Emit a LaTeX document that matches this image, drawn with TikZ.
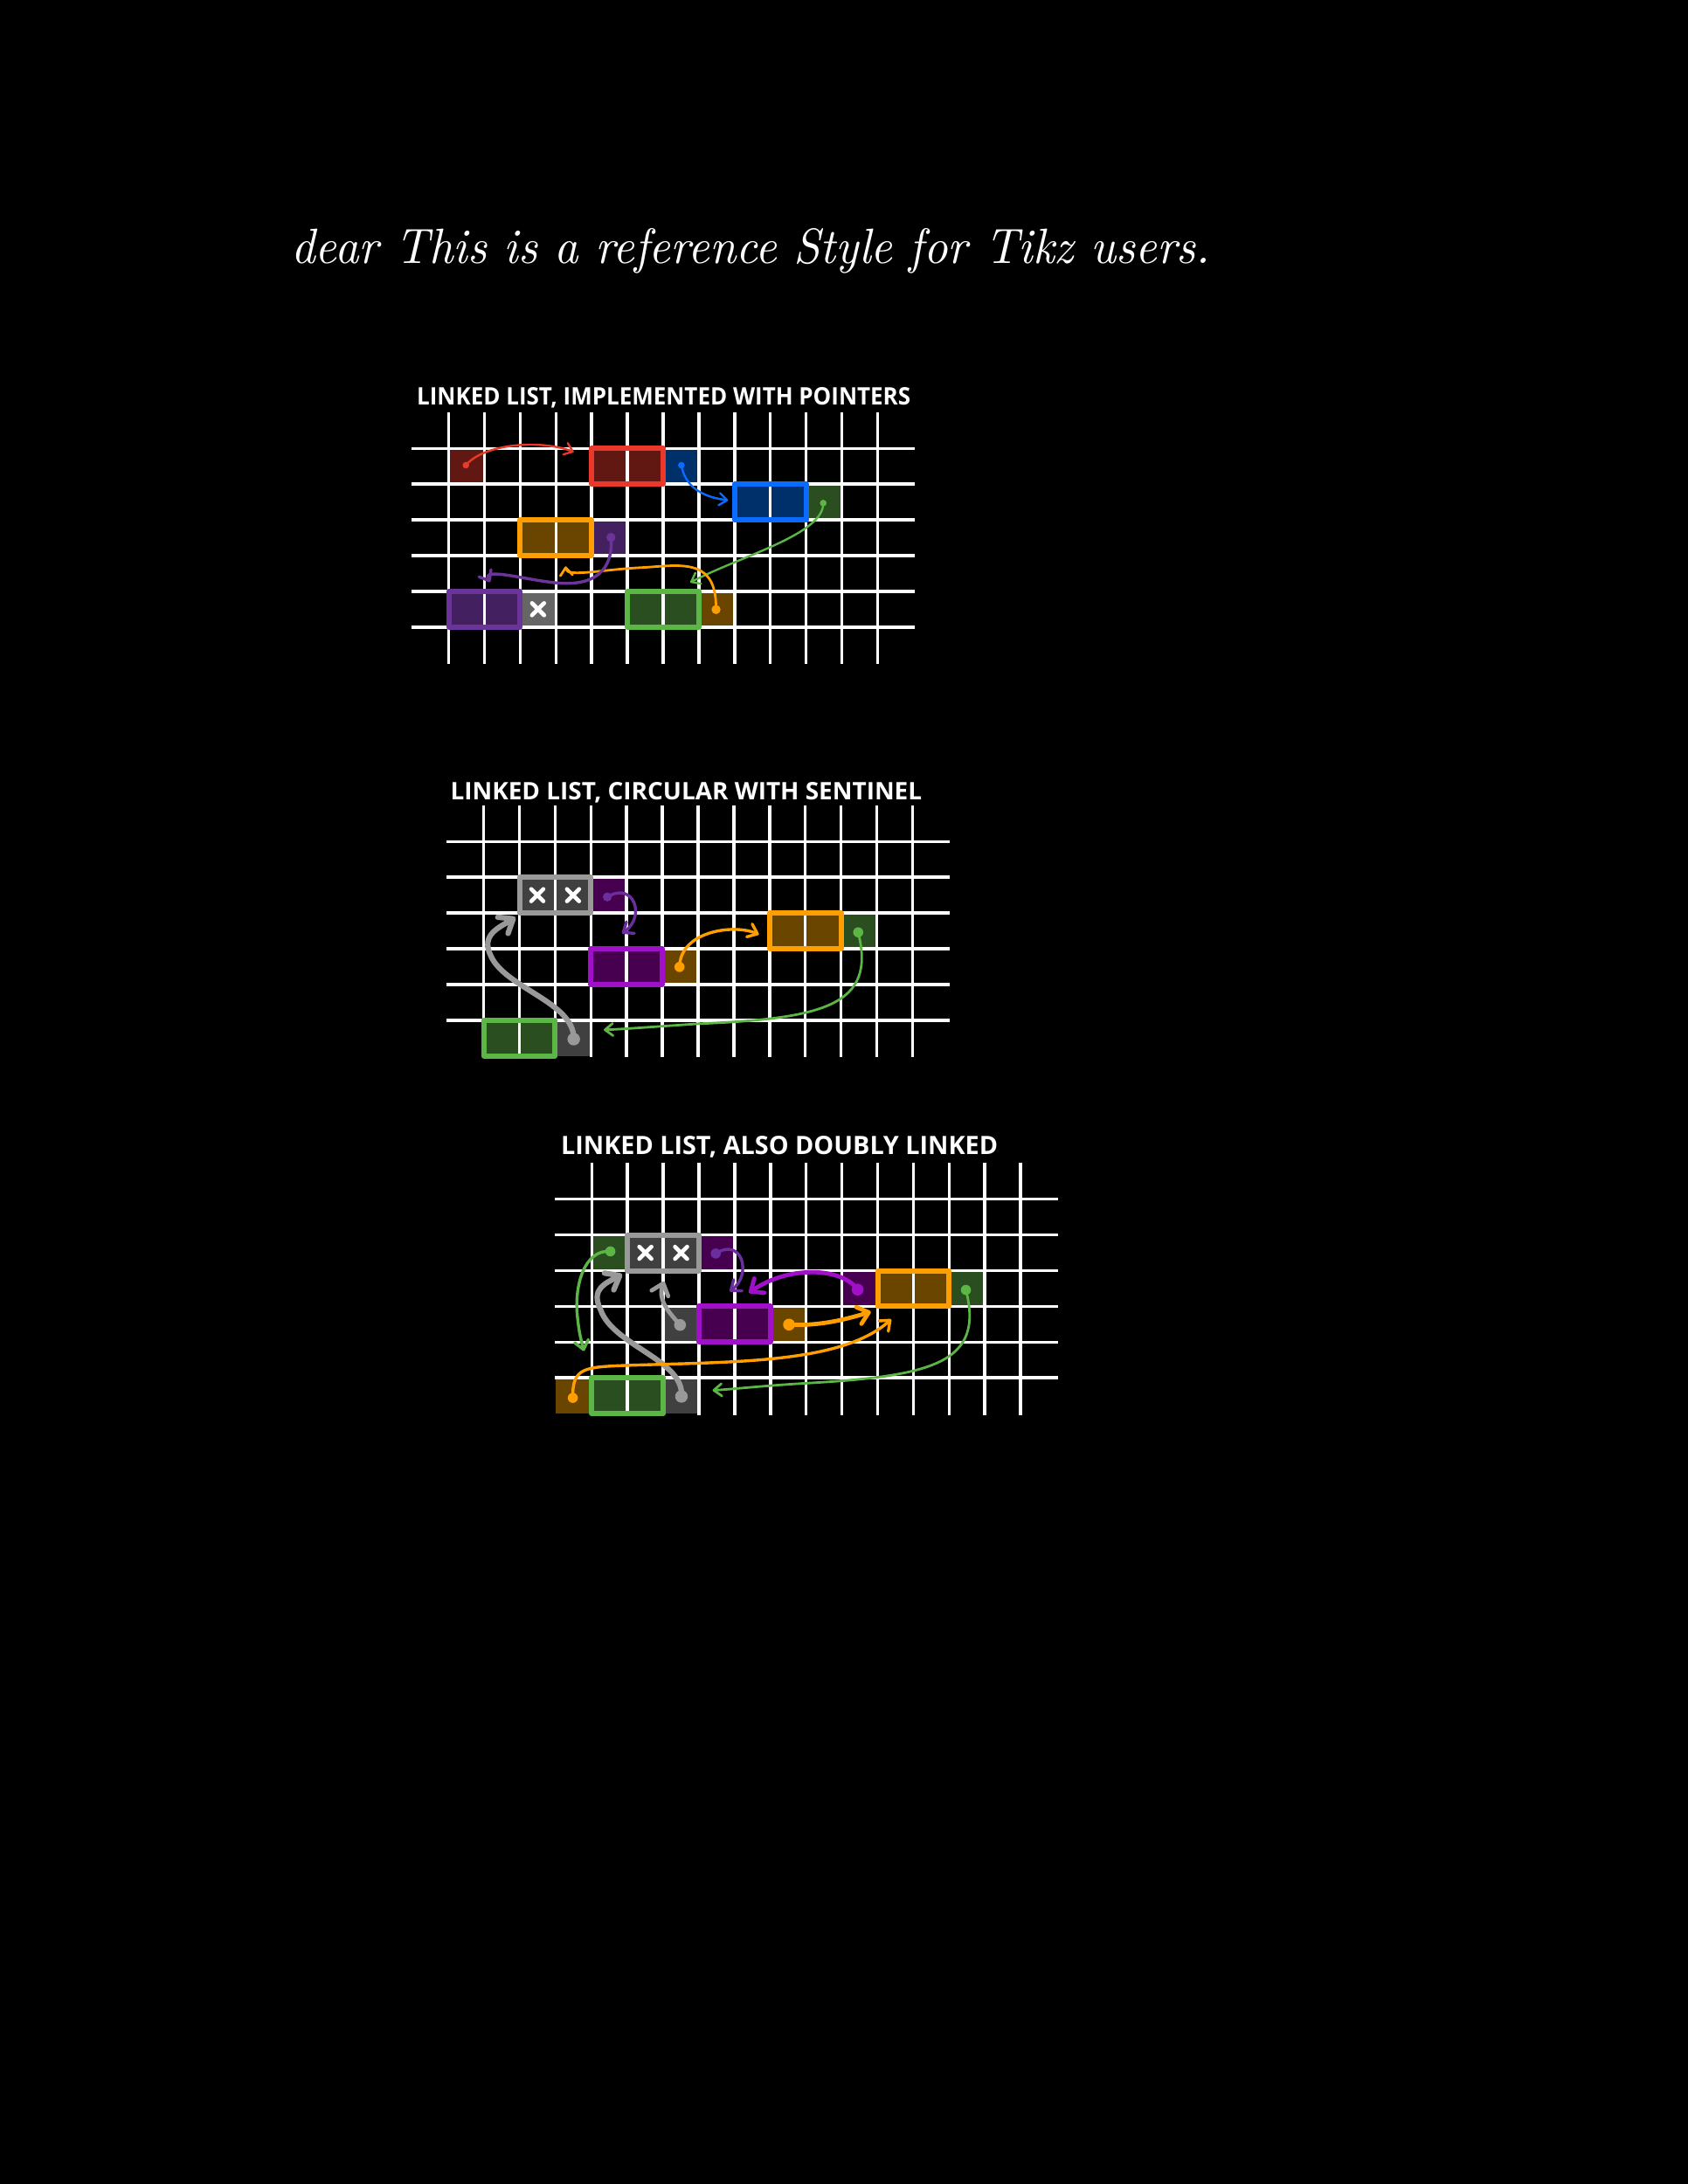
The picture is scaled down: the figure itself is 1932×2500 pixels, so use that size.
\documentclass[tikz,border=0pt]{standalone}
\usepackage{fontspec}
\usetikzlibrary{arrows.meta}
\newfontfamily\handfont{Open Sans}
\definecolor{redL}{HTML}{E8392A}
\definecolor{redD}{HTML}{621812}
\definecolor{blueL}{HTML}{0A6CFF}
\definecolor{blueD}{HTML}{00306A}
\definecolor{greenL}{HTML}{5CB646}
\definecolor{greenD}{HTML}{2A4E20}
\definecolor{orangeL}{HTML}{FF9E00}
\definecolor{orangeD}{HTML}{6A4500}
\definecolor{purpL}{HTML}{6B3499}
\definecolor{purpD}{HTML}{43205F}
\definecolor{magL}{HTML}{A010C8}
\definecolor{magD}{HTML}{47004F}
\definecolor{grayL}{HTML}{999999}
\definecolor{grayD}{HTML}{404040}
\definecolor{grayM}{HTML}{666666}
\definecolor{purpA}{HTML}{6B2E9E}
\tikzset{
  gridline/.style={white, line width=1.75pt},
  boxline/.style={line width=3pt, line join=round},
  xmark/.style={white, line width=2.3pt, line cap=round},
  ptrS/.style={line width=1.2pt, line cap=round, -{Straight Barb[length=4.5pt,width=7pt,round]}},
  ptrM/.style={line width=1.7pt, line cap=round, -{Straight Barb[length=5pt,width=8pt,round]}},
  ptrML/.style={line width=2.4pt, line cap=round, -{Straight Barb[length=6pt,width=10pt,round]}},
  ptrL/.style={line width=3.1pt, line cap=round, -{Straight Barb[length=7pt,width=11pt,round]}},
  titletext/.style={anchor=base west, inner sep=0pt, text=white},
}
\newcommand\LLcell[3]{\fill[#1] (#2,#3) rectangle ++(1,1);}
\newcommand\LLbox[3]{\fill[#1] (#2,#3) rectangle ++(2,1);}
\newcommand\LLframe[3]{\draw[boxline,#1] (#2,#3) rectangle ++(2,1);}
\newcommand\LLx[2]{\draw[xmark,shift={(#1+0.5,#2+0.5)}] (-0.17,-0.17) -- (0.17,0.17) (-0.17,0.17) -- (0.17,-0.17);}
\newcommand\LLgrid{%
  \foreach \i in {0,...,12}{\draw[gridline] (\i,-1.02) -- (\i,6.04);}%
  \foreach \j in {0,...,5}{\draw[gridline] (-1.03,\j) -- (13.05,\j);}%
}
\begin{document}
\begin{tikzpicture}[x=0.5pt,y=-0.5pt]
\fill[black] (0,0) rectangle (1932,2500);
\useasboundingbox (0,0) rectangle (1932,2500);

\node[titletext] (hand) at (333,301.7) {\resizebox{526pt}{20pt}{\itshape dear This is a reference Style for Tikz users.}};

% ---------------- Diagram 1 ----------------
\begin{scope}[xshift=256.8pt,yshift=-256.65pt,x=20.45pt,y=-20.45pt]
\node[titletext] (t1) at (-0.9,-1.23) {\resizebox{282.5pt}{10pt}{\handfont\bfseries LINKED LIST, IMPLEMENTED WITH POINTERS}};
\LLcell{redD}{0}{0}
\LLbox{redD}{4}{0}
\LLcell{blueD}{6}{0}
\LLbox{blueD}{8}{1}
\LLcell{greenD}{10}{1}
\LLbox{orangeD}{2}{2}
\LLcell{purpD}{4}{2}
\LLbox{purpD}{0}{4}
\LLcell{grayM}{2}{4}
\LLbox{greenD}{5}{4}
\LLcell{orangeD}{7}{4}
\LLgrid
\LLframe{redL}{4}{0}
\LLframe{blueL}{8}{1}
\LLframe{orangeL}{2}{2}
\LLframe{purpL}{0}{4}
\LLframe{greenL}{5}{4}
\LLx{2}{4}
\coordinate (a1s) at (0.48,0.47);  \coordinate (a1e) at (3.5,0.1);
\coordinate (a2s) at (6.51,0.47);  \coordinate (a2e) at (7.82,1.45);
\coordinate (a3s) at (10.48,1.53); \coordinate (a3e) at (6.76,3.75);
\coordinate (a4s) at (7.48,4.51);  \coordinate (a4e) at (3.27,3.3);
\coordinate (a5s) at (4.54,2.49);  \coordinate (a5e) at (1.16,3.74);
\draw[ptrS,redL] (a1s) .. controls (1.0,-0.15) and (2.6,-0.25) .. (a1e);
\draw[ptrS,blueL] (a2s) .. controls (6.6,1.0) and (7.0,1.35) .. (a2e);
\draw[ptrS,greenL] (a3s) .. controls (10.5,2.4) and (8.2,3.0) .. (a3e);
\draw[ptrS,line width=1.4pt,orangeL] (a4s) .. controls (7.5,3.1) and (6.6,3.25) .. (5.5,3.33) .. controls (4.3,3.38) and (3.3,3.62) .. (a4e);
\draw[ptrM,purpL] (a5s) .. controls (4.6,3.2) and (4.3,3.85) .. (3.1,3.77) .. controls (2.2,3.7) and (0.9,3.3) .. (a5e);
\fill[redL] (a1s) circle[radius=1.9pt];
\fill[blueL] (a2s) circle[radius=1.9pt];
\fill[greenL] (a3s) circle[radius=1.9pt];
\fill[orangeL] (a4s) circle[radius=2.6pt];
\fill[purpL] (a5s) circle[radius=2.6pt];
\end{scope}

% ---------------- Diagram 2 ----------------
\begin{scope}[xshift=276.8pt,yshift=-481.65pt,x=20.45pt,y=-20.45pt]
\node[titletext] (t2) at (-0.94,-1.18) {\resizebox{269.8pt}{10pt}{\handfont\bfseries LINKED LIST, CIRCULAR WITH SENTINEL}};
\LLbox{grayD}{1}{1}
\LLcell{magD}{3}{1}
\LLbox{magD}{3}{3}
\LLcell{orangeD}{5}{3}
\LLbox{orangeD}{8}{2}
\LLcell{greenD}{10}{2}
\LLbox{greenD}{0}{5}
\LLcell{grayD}{2}{5}
\LLgrid
\LLframe{grayL}{1}{1}
\LLframe{magL}{3}{3}
\LLframe{orangeL}{8}{2}
\LLframe{greenL}{0}{5}
\LLx{1}{1}
\LLx{2}{1}
\coordinate (b1s) at (3.46,1.55);  \coordinate (b1e) at (3.87,2.57);
\coordinate (b2s) at (5.48,3.51);  \coordinate (b2e) at (7.7,2.6);
\coordinate (b3s) at (10.48,2.54); \coordinate (b3e) at (3.36,5.27);
\coordinate (b4s) at (2.52,5.53);  \coordinate (b4e) at (0.89,2.12);
\draw[ptrM,purpA] (b1s) .. controls (4.2,1.1) and (4.55,2.1) .. (b1e);
\draw[ptrM,orangeL] (b2s) .. controls (5.5,2.5) and (7.0,2.3) .. (b2e);
\draw[ptrS,line width=1.4pt,greenL] (b3s) .. controls (11.0,4.6) and (9.5,4.95) .. (6.0,5.1) .. controls (4.8,5.18) and (3.9,5.25) .. (b3e);
\draw[ptrL,grayL] (b4s) .. controls (2.55,4.5) and (0.6,4.1) .. (0.2,3.2) .. controls (-0.1,2.6) and (0.45,2.4) .. (b4e);
\fill[purpA] (b1s) circle[radius=2.6pt];
\fill[orangeL] (b2s) circle[radius=2.9pt];
\fill[greenL] (b3s) circle[radius=2.9pt];
\fill[grayL] (b4s) circle[radius=3.6pt];
\end{scope}

% ---------------- Diagram 3 ----------------
\begin{scope}[xshift=338.65pt,yshift=-686.35pt,x=20.45pt,y=-20.45pt]
\node[titletext] (t3) at (-0.87,-1.25) {\resizebox{250pt}{10.5pt}{\handfont\bfseries LINKED LIST, ALSO DOUBLY LINKED}};
\LLcell{greenD}{0}{1}
\LLbox{grayD}{1}{1}
\LLcell{magD}{3}{1}
\LLcell{magD}{7}{2}
\LLbox{orangeD}{8}{2}
\LLcell{greenD}{10}{2}
\LLcell{grayD}{2}{3}
\LLbox{magD}{3}{3}
\LLcell{orangeD}{5}{3}
\LLcell{orangeD}{-1}{5}
\LLbox{greenD}{0}{5}
\LLcell{grayD}{2}{5}
\LLgrid
\LLframe{grayL}{1}{1}
\LLframe{magL}{3}{3}
\LLframe{orangeL}{8}{2}
\LLframe{greenL}{0}{5}
\LLx{1}{1}
\LLx{2}{1}
\coordinate (c1s) at (0.52,1.46);  \coordinate (c1e) at (-0.22,4.25);
\coordinate (c2s) at (3.47,1.52);  \coordinate (c2e) at (3.86,2.58);
\coordinate (c3s) at (2.47,3.52);  \coordinate (c3e) at (2.02,2.3);
\coordinate (c4s) at (2.51,5.52);  \coordinate (c4e) at (0.85,2.1);
\coordinate (c5s) at (7.44,2.53);  \coordinate (c5e) at (4.4,2.62);
\coordinate (c6s) at (5.52,3.51);  \coordinate (c6e) at (7.81,3.15);
\coordinate (c7s) at (-0.53,5.56); \coordinate (c7e) at (8.38,3.36);
\coordinate (c8s) at (10.47,2.54); \coordinate (c8e) at (3.38,5.35);
\draw[ptrM,greenL] (c1s) .. controls (-0.2,1.4) and (-0.5,2.4) .. (-0.4,3.3) .. controls (-0.35,3.8) and (-0.28,4.0) .. (c1e);
\draw[ptrM,purpA] (c2s) .. controls (4.2,1.05) and (4.5,2.1) .. (c2e);
\draw[ptrML,grayL] (c3s) .. controls (2.1,3.1) and (1.85,2.8) .. (c3e);
\draw[ptrL,grayL] (c4s) .. controls (2.6,4.5) and (0.6,4.1) .. (0.25,3.1) .. controls (-0.05,2.5) and (0.4,2.35) .. (c4e);
\draw[ptrML,magL] (c5s) .. controls (7.0,1.9) and (5.5,1.85) .. (c5e);
\draw[ptrML,orangeL] (c6s) .. controls (6.3,3.55) and (7.0,3.4) .. (c6e);
\draw[ptrM,orangeL] (c7s) .. controls (-0.55,4.7) and (-0.2,4.7) .. (1.0,4.65) .. controls (4.0,4.55) and (7.0,4.6) .. (c7e);
\draw[ptrS,line width=1.4pt,greenL] (c8s) .. controls (11.0,4.6) and (9.5,4.95) .. (6.0,5.15) .. controls (4.8,5.22) and (3.9,5.32) .. (c8e);
\fill[greenL] (c1s) circle[radius=2.9pt];
\fill[purpA] (c2s) circle[radius=2.9pt];
\fill[grayL] (c3s) circle[radius=3.4pt];
\fill[grayL] (c4s) circle[radius=3.6pt];
\fill[magL] (c5s) circle[radius=3.4pt];
\fill[orangeL] (c6s) circle[radius=3.4pt];
\fill[orangeL] (c7s) circle[radius=2.9pt];
\fill[greenL] (c8s) circle[radius=2.9pt];
\end{scope}
\end{tikzpicture}
\end{document}
